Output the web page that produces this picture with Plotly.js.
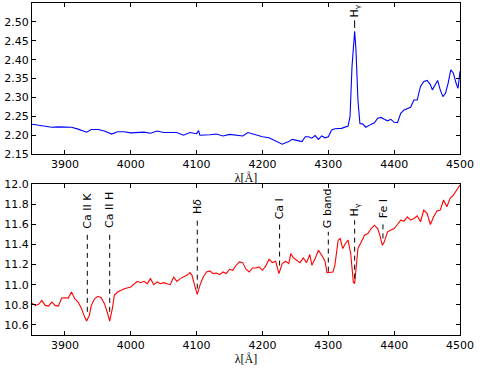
<!DOCTYPE html>
<html><head><meta charset="utf-8">
<script src="https://cdn.plot.ly/plotly-3.0.1.min.js"></script>
<style>html,body{margin:0;padding:0;background:#fff}#plot{width:480px;height:369px}</style>
</head><body><div id="plot"></div>
<script>
// Top panel (blue) spectrum
const waveTop = [3850,3860,3870,3880,3890,3900,3910,3920,3933,3940,3950,3960,3971,3980,3990,4000,4010,4020,4030,4040,4050,4060,4070,4080,4090,4100,4103,4105,4110,4120,4130,4140,4150,4160,4170,4178,4190,4200,4210,4220,4230,4240,4245,4250,4260,4265,4270,4275,4280,4285,4290,4295,4300,4305,4310,4320,4330,4333,4336,4340,4342,4345,4348,4352,4357,4362,4370,4375,4380,4385,4390,4395,4400,4405,4410,4415,4420,4425,4430,4435,4440,4445,4450,4455,4458,4462,4466,4470,4474,4478,4482,4486,4490,4494,4497,4500];
const fluxTop = [2.229,2.226,2.225,2.221,2.222,2.222,2.221,2.216,2.208,2.215,2.215,2.211,2.203,2.209,2.209,2.206,2.207,2.208,2.205,2.211,2.207,2.207,2.207,2.200,2.207,2.204,2.212,2.200,2.200,2.201,2.203,2.198,2.202,2.200,2.198,2.207,2.200,2.196,2.193,2.185,2.176,2.183,2.189,2.187,2.183,2.196,2.196,2.192,2.199,2.189,2.198,2.193,2.196,2.214,2.217,2.218,2.224,2.249,2.382,2.475,2.426,2.293,2.231,2.230,2.221,2.226,2.233,2.245,2.247,2.242,2.238,2.242,2.234,2.233,2.258,2.267,2.271,2.274,2.293,2.293,2.329,2.342,2.345,2.334,2.320,2.334,2.345,2.320,2.302,2.311,2.338,2.373,2.364,2.338,2.324,2.369];

// Bottom panel (red) spectrum
const waveBot = [3850,3855,3860,3865,3870,3875,3880,3885,3890,3895,3900,3905,3910,3915,3920,3925,3930,3933,3937,3940,3945,3950,3955,3960,3965,3968,3972,3975,3980,3990,4000,4005,4010,4015,4020,4025,4030,4035,4040,4045,4050,4055,4060,4065,4070,4075,4080,4085,4090,4093,4097,4101,4105,4110,4115,4120,4125,4130,4135,4140,4145,4150,4155,4160,4165,4170,4175,4180,4185,4190,4195,4200,4205,4210,4215,4220,4225,4230,4235,4240,4243,4247,4252,4257,4262,4267,4272,4275,4280,4285,4290,4295,4298,4302,4307,4310,4315,4318,4322,4326,4330,4334,4338,4340,4342,4345,4350,4355,4360,4365,4370,4375,4378,4382,4385,4390,4395,4400,4405,4410,4415,4420,4425,4430,4435,4440,4445,4450,4455,4460,4465,4470,4475,4480,4485,4490,4495,4500];
const fluxBot = [10.817,10.794,10.804,10.844,10.794,10.787,10.827,10.794,10.787,10.867,10.870,10.867,10.927,10.860,10.827,10.767,10.678,10.638,10.694,10.794,10.860,10.884,10.870,10.811,10.711,10.638,10.761,10.894,10.927,10.960,10.977,11.010,11.033,11.020,11.033,11.010,11.060,11.000,11.027,11.010,11.020,11.010,11.000,11.076,11.033,11.060,11.076,11.093,11.120,11.093,10.993,10.904,10.993,11.076,11.126,11.136,11.110,11.116,11.100,11.126,11.110,11.153,11.143,11.193,11.226,11.219,11.153,11.126,11.166,11.166,11.176,11.143,11.186,11.252,11.219,11.233,11.110,11.209,11.233,11.209,11.309,11.266,11.243,11.219,11.266,11.219,11.299,11.193,11.259,11.342,11.292,11.233,11.120,11.120,11.126,11.193,11.442,11.458,11.359,11.409,11.442,11.309,11.027,11.010,11.159,11.359,11.425,11.492,11.508,11.558,11.591,11.558,11.498,11.392,11.425,11.525,11.542,11.558,11.598,11.641,11.631,11.674,11.641,11.658,11.684,11.625,11.741,11.708,11.598,11.674,11.731,11.741,11.841,11.774,11.857,11.890,11.940,11.990];

// Line markers, bottom panel
const lineNames = ["Ca II K","Ca II H","H<i>δ</i>","Ca I","G band","H<sub>γ</sub>","Fe I"];
const lineWaves = [3934,3968,4101,4226,4300,4340,4383];
const lineTops  = [11.52,11.52,11.66,11.61,11.525,11.64,11.625];
const lineBots  = [10.73,10.73,10.96,11.19,11.13,11.06,11.46];

// Line marker, top panel
const topLineName = ["H<sub>γ</sub>"];
const topLineWave = [4340];
const topLineTop = [2.504];
const topLineBot = [2.484];

const xTicks = [3900,4000,4100,4200,4300,4400,4500];
const yTicksTop = [2.15,2.20,2.25,2.30,2.35,2.40,2.45,2.50];
const yTicksBot = [10.6,10.8,11.0,11.2,11.4,11.6,11.8,12.0];

const traces = [
  {x: waveTop, y: fluxTop, mode:'lines', line:{color:'#0000ff', width:1.1}, xaxis:'x', yaxis:'y', hoverinfo:'skip'},
  {x: waveBot, y: fluxBot, mode:'lines', line:{color:'#ff0000', width:1.1}, xaxis:'x2', yaxis:'y2', hoverinfo:'skip'}
];
const annotations = [];
lineWaves.forEach((w,i)=>{
  traces.push({x:[w,w], y:[lineBots[i], lineTops[i]], mode:'lines', line:{color:'#000', width:1, dash:'5px,4px'}, xaxis:'x2', yaxis:'y2', hoverinfo:'skip'});
  annotations.push({x:w, y:lineTops[i], xref:'x2', yref:'y2', text:lineNames[i], textangle:-90, showarrow:false, xanchor:'center', yanchor:'bottom', yshift:2, font:{family:'DejaVu Sans', size:11, color:'#000'}});
});
topLineWave.forEach((w,i)=>{
  traces.push({x:[w,w], y:[topLineBot[i], topLineTop[i]], mode:'lines', line:{color:'#000', width:1}, xaxis:'x', yaxis:'y', hoverinfo:'skip'});
  annotations.push({x:w, y:topLineTop[i], xref:'x', yref:'y', text:topLineName[i], textangle:-90, showarrow:false, xanchor:'center', yanchor:'bottom', yshift:1, font:{family:'DejaVu Sans', size:11, color:'#000'}});
});

const axBase = {showline:true, linecolor:'#000', linewidth:1, mirror:'allticks', ticks:'inside', ticklen:4, tickcolor:'#000', showgrid:false, zeroline:false, tickfont:{family:'DejaVu Sans', size:11, color:'#000'}};
const xtitle = {text:'λ[Å]', font:{family:'Liberation Serif', size:12, color:'#000'}, standoff:2};

const layout = {
  width:480, height:369, showlegend:false,
  paper_bgcolor:'#fff', plot_bgcolor:'#fff',
  margin:{l:32, r:20, t:3, b:34},
  xaxis: Object.assign({}, axBase, {domain:[0,1], range:[3850,4500], tickvals:xTicks, ticktext:xTicks.map(String), anchor:'y', title:xtitle}),
  yaxis: Object.assign({}, axBase, {domain:[0.545,1], range:[2.15,2.55], tickvals:yTicksTop, ticktext:yTicksTop.map(v=>v.toFixed(2)), anchor:'x'}),
  xaxis2: Object.assign({}, axBase, {domain:[0,1], range:[3850,4500], tickvals:xTicks, ticktext:xTicks.map(String), anchor:'y2', title:xtitle}),
  yaxis2: Object.assign({}, axBase, {domain:[0,0.4548], range:[10.5,12.0], tickvals:yTicksBot, ticktext:yTicksBot.map(v=>v.toFixed(1)), anchor:'x2'}),
  annotations: annotations
};
Plotly.newPlot('plot', traces, layout, {staticPlot:true, displayModeBar:false});
</script></body></html>
